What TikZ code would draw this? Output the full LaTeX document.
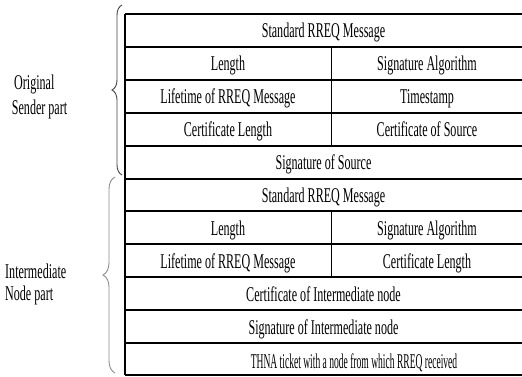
\documentclass[tikz,border=0pt]{standalone}
\usepackage{fontspec}
\usepackage{graphicx}
\setmainfont{Liberation Serif}
\newcommand{\cellt}[2][0.575]{\scalebox{#1}[1]{#2}}
\usetikzlibrary{decorations.pathreplacing}
\begin{document}
\begin{tikzpicture}[x=1pt,y=-1pt,
  tline/.style={line width=1.6pt},
  cell/.style={anchor=base, inner sep=0pt, font=\fontsize{21}{24}\selectfont},
  side/.style={anchor=base west, inner sep=0pt, font=\fontsize{21}{24}\selectfont},
  bracel/.style={decorate, decoration={brace, amplitude=#1}, line width=0.9pt}]
\useasboundingbox (0,0) rectangle (522,377);
% table lines
\foreach \y in {14,47,80,113,146,179,211,244,277,310,343,375}
  \draw[tline] (125,\y) -- (522,\y);
\draw[tline] (125,14) -- (125,375);
\draw[tline] (331.5,47) -- (331.5,146);
\draw[tline] (331.5,211) -- (331.5,277);
% texts: original sender part
\node[cell] (a0) at (323.5,37.5) {\cellt{Standard RREQ Message}};
\node[cell] (a1l) at (228,70.5) {\cellt{Length}};
\node[cell] (a1r) at (427,70.5) {\cellt{Signature Algorithm}};
\node[cell] (a2l) at (228,103.5) {\cellt{Lifetime of RREQ Message}};
\node[cell] (a2r) at (427,103.5) {\cellt{Timestamp}};
\node[cell] (a3l) at (228,136.5) {\cellt{Certificate Length}};
\node[cell] (a3r) at (427,136.5) {\cellt{Certificate of Source}};
\node[cell] (a4) at (323.5,169.5) {\cellt{Signature of Source}};
% intermediate node part
\node[cell] (b0) at (323.5,202.5) {\cellt{Standard RREQ Message}};
\node[cell] (b1l) at (228,235) {\cellt{Length}};
\node[cell] (b1r) at (427,235) {\cellt{Signature Algorithm}};
\node[cell] (b2l) at (228,268) {\cellt{Lifetime of RREQ Message}};
\node[cell] (b2r) at (427,268) {\cellt{Certificate Length}};
\node[cell] (b3) at (323.5,301) {\cellt{Certificate of Intermediate node}};
\node[cell] (b4) at (323.5,334) {\cellt{Signature of Intermediate node}};
\node[cell] (b5) at (354,368) {\cellt[0.455]{THNA ticket with a node from which RREQ received}};
% side labels
\node[side] (s1) at (14,90) {\cellt{Original}};
\node[side] (s2) at (11.7,115) {\cellt{Sender part}};
\node[side] (s3) at (5,278.3) {\cellt{Intermediate}};
\node[side] (s4) at (5,300) {\cellt{Node part}};
% braces
\coordinate (br1b) at (122,175);
\coordinate (br1t) at (122,5);
\coordinate (br2b) at (115,373);
\coordinate (br2t) at (115,177);
\draw[bracel=10, black!75] (br1b) -- (br1t);
\draw[bracel=12, black!45] (br2b) -- (br2t);
\end{tikzpicture}
\end{document}
